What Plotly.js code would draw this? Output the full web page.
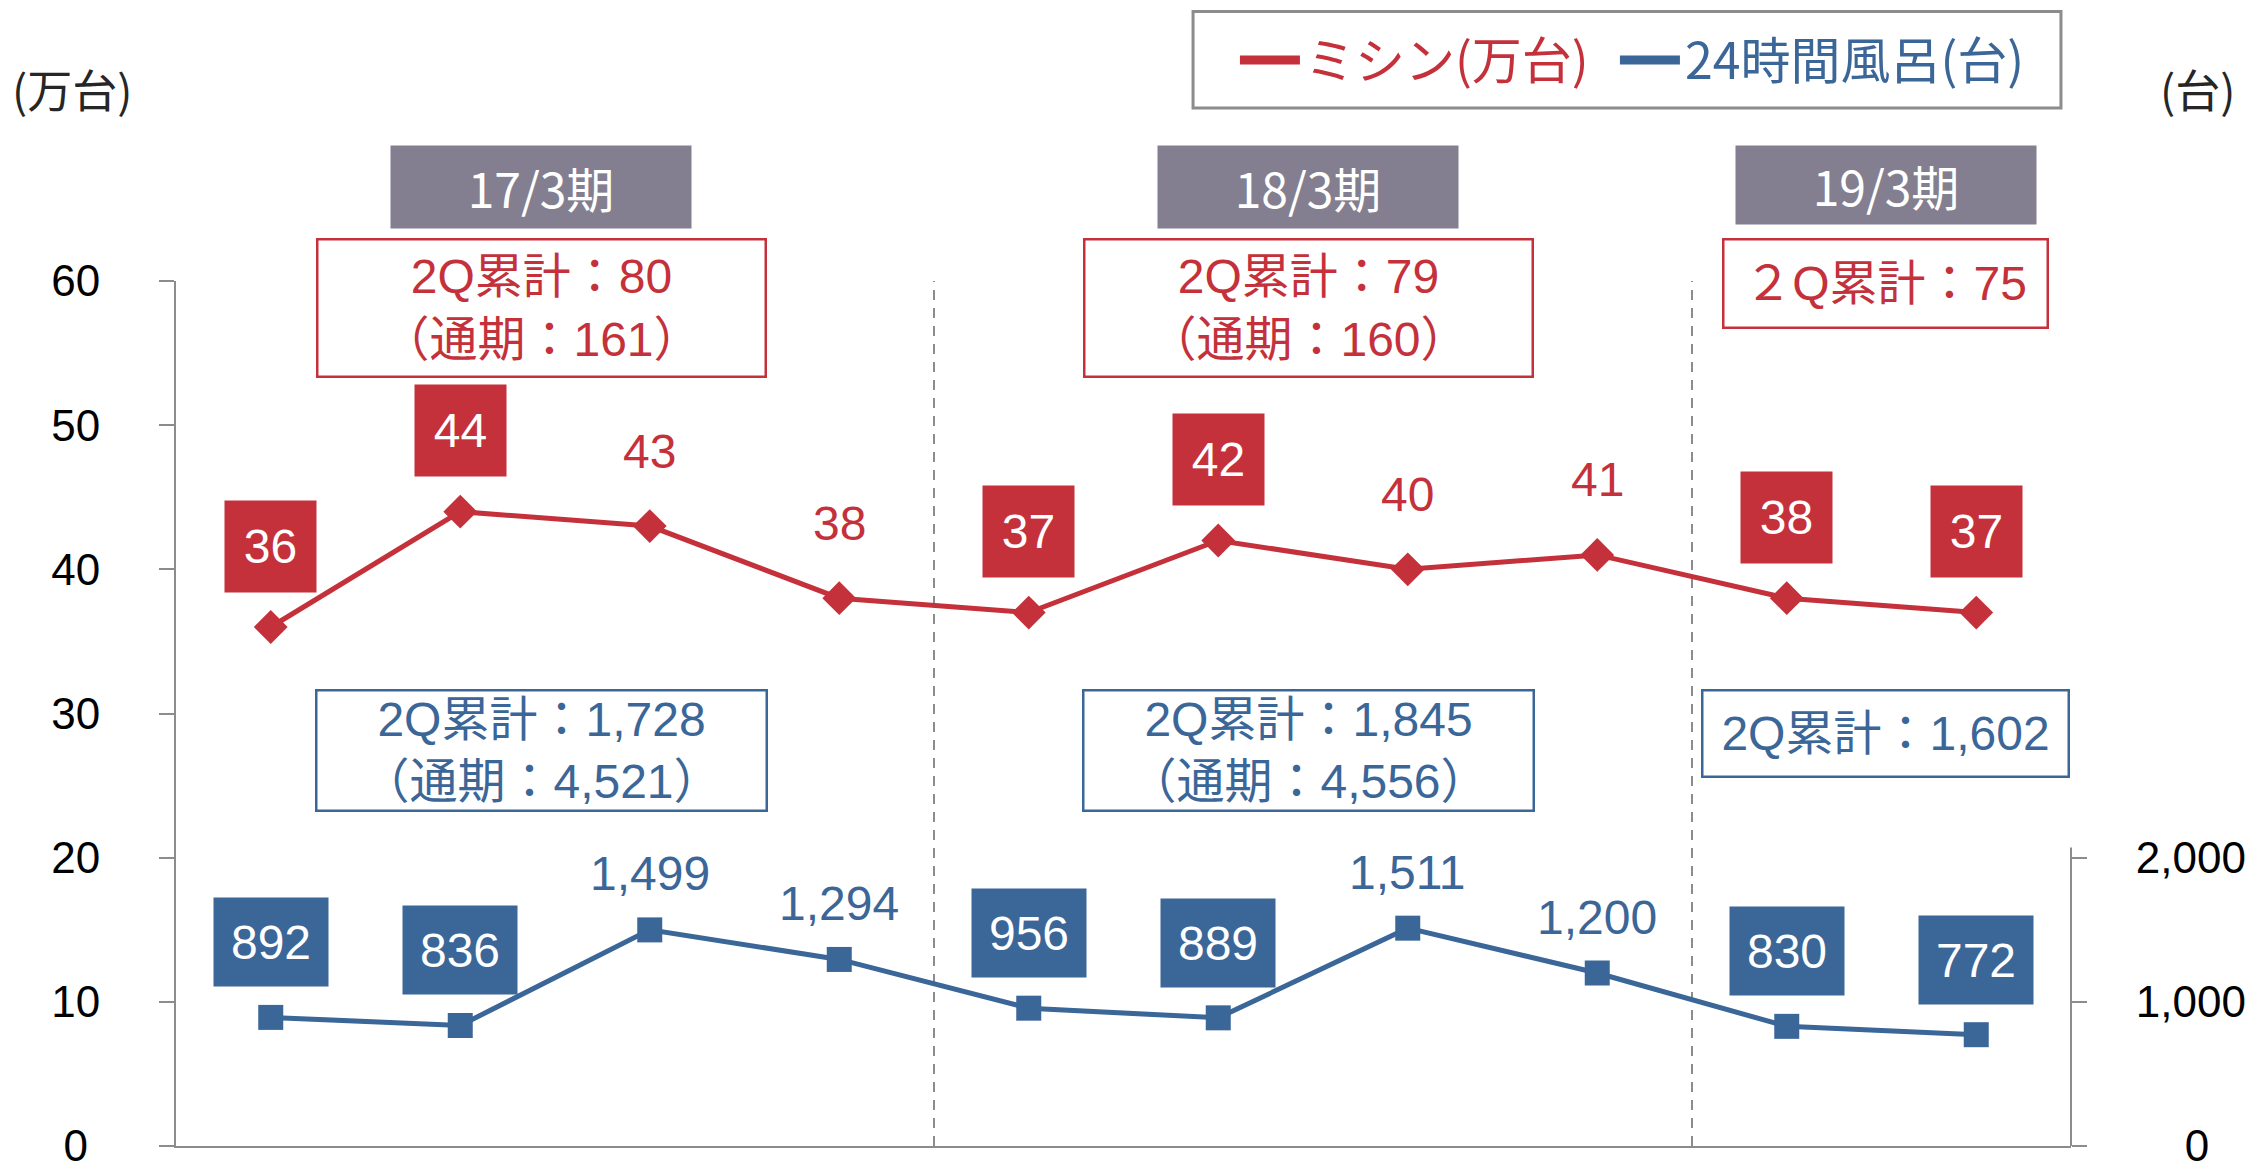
<!DOCTYPE html>
<html>
<head>
<meta charset="utf-8">
<script src="https://cdn.plot.ly/plotly-3.0.1.min.js"></script>
<style>html,body{margin:0;padding:0;background:#fff;}</style>
</head>
<body>
<div id="chart" style="width:2260px;height:1169px;"></div>
<script>
// 四半期ごとのデータ
var quarters = ['17/3期 1Q','17/3期 2Q','17/3期 3Q','17/3期 4Q','18/3期 1Q','18/3期 2Q','18/3期 3Q','18/3期 4Q','19/3期 1Q','19/3期 2Q'];
var mishin = [36, 44, 43, 38, 37, 42, 40, 41, 38, 37];          // 万台
var furo = [892, 836, 1499, 1294, 956, 889, 1511, 1200, 830, 772]; // 台
var periods = ['17/3期', '18/3期', '19/3期'];
var mishinTotals = ['2Q累計：80<br>（通期：161）', '2Q累計：79<br>（通期：160）', '２Q累計：75'];
var furoTotals = ['2Q累計：1,728<br>（通期：4,521）', '2Q累計：1,845<br>（通期：4,556）', '2Q累計：1,602'];
var leftTicks = [0, 10, 20, 30, 40, 50, 60];
var rightTicks = [0, 1000, 2000];

var RED = '#C4313B', BLUE = '#3B6698', GRAY = '#8c8c8c', HEAD = '#837F90';
var FONT = "'Liberation Sans', 'Noto Sans CJK JP', sans-serif";
var JP = "'Noto Sans CJK JP', sans-serif";

var $drawChart = function(id){
    var data = [
        {
            x: quarters, y: mishin, yaxis: 'y', type: 'scatter', mode: 'lines+markers',
            line: {color: RED, width: 5},
            marker: {symbol: 'diamond', size: 26, color: RED},
            showlegend: false, hoverinfo: 'skip'
        },
        {
            x: quarters, y: furo, yaxis: 'y2', type: 'scatter', mode: 'lines+markers',
            line: {color: BLUE, width: 5},
            marker: {symbol: 'square', size: 25, color: BLUE},
            showlegend: false, hoverinfo: 'skip'
        },
        // 凡例だけのダミー
        {x: [null], y: [null], mode: 'lines', line: {color: RED, width: 9},
         name: '<span style="color:' + RED + '">ミシン(万台)</span>'},
        {x: [null], y: [null], mode: 'lines', line: {color: BLUE, width: 9}, legendwidth: 380,
         name: '<span style="color:' + BLUE + '">24時間風呂(台)</span>'}
    ];

    var annotations = [];
    var shapes = [];

    // データラベル（1Q・2Qは塗りつぶしの箱）
    quarters.forEach(function(q, i){
        var boxed = (i % 4) < 2;
        annotations.push({
            x: i, y: mishin[i], xref: 'x', yref: 'y', showarrow: false, xanchor: 'center', yanchor: 'middle',
            text: String(mishin[i]), yshift: boxed ? 81 : 75,
            font: {family: FONT, size: 48, color: boxed ? '#fff' : RED},
            bgcolor: boxed ? RED : 'rgba(0,0,0,0)', width: boxed ? 91 : null, height: boxed ? 91 : null,
            borderpad: 0
        });
        annotations.push({
            x: i, y: furo[i], xref: 'x', yref: 'y2', showarrow: false, xanchor: 'center', yanchor: 'middle',
            text: furo[i].toLocaleString('en-US'), yshift: boxed ? 75 : 56,
            font: {family: FONT, size: 48, color: boxed ? '#fff' : BLUE},
            bgcolor: boxed ? BLUE : 'rgba(0,0,0,0)', width: boxed ? 114 : null, height: boxed ? 88 : null,
            borderpad: 0
        });
    });

    // 期ごとの見出し・累計ボックス・区切り線
    var nudge = [-14, -5, 4]; // 箱の横位置の微調整(px)
    periods.forEach(function(p, k){
        var first = k * 4, last = Math.min(k * 4 + 3, quarters.length - 1);
        var mid = (first + last) / 2;
        var twoLine = mishinTotals[k].indexOf('<br>') >= 0;
        annotations.push({
            x: mid, y: 1.1567, xref: 'x', yref: 'paper', xanchor: 'center', yanchor: 'top', showarrow: false,
            xshift: nudge[k], text: p, font: {family: JP, size: 48, color: '#fff'},
            bgcolor: HEAD, width: 300, height: k == 2 ? 78 : 82, borderpad: 0
        });
        annotations.push({
            x: mid, y: 1.0492, xref: 'x', yref: 'paper', xanchor: 'center', yanchor: 'top', showarrow: false,
            xshift: nudge[k], text: mishinTotals[k], font: {family: FONT, size: 48, color: RED},
            bordercolor: RED, borderwidth: 2.5, borderpad: 0, bgcolor: '#fff',
            width: twoLine ? 446 : 322, height: twoLine ? 135 : 86
        });
        annotations.push({
            x: mid, y: 31.7, xref: 'x', yref: 'y', xanchor: 'center', yanchor: 'top', showarrow: false,
            xshift: nudge[k], text: furoTotals[k], font: {family: FONT, size: 48, color: BLUE},
            bordercolor: BLUE, borderwidth: 2.5, borderpad: 0, bgcolor: '#fff',
            width: twoLine ? 448 : 364, height: twoLine ? 118 : 84
        });
        if(k > 0){
            shapes.push({
                type: 'line', xref: 'x', yref: 'y', x0: first - 0.5, x1: first - 0.5, y0: 0, y1: 60.5,
                line: {color: GRAY, width: 2, dash: '10px,8px'}, layer: 'below'
            });
        }
    });

    // 単位
    annotations.push({xref: 'paper', yref: 'paper', x: -0.055, y: 1.222, xanchor: 'center', yanchor: 'middle',
        showarrow: false, text: '(万台)', font: {family: JP, size: 45, color: '#262626'}});
    annotations.push({xref: 'paper', yref: 'paper', x: 1.067, y: 1.222, xanchor: 'center', yanchor: 'middle',
        showarrow: false, text: '(台)', font: {family: JP, size: 45, color: '#262626'}});

    // 右軸は2,000までしか線を引かない
    shapes.push({type: 'line', xref: 'paper', yref: 'y2', x0: 1, x1: 1, y0: 0, y1: 2070,
        line: {color: GRAY, width: 2}});
    // 凡例の枠
    shapes.push({type: 'rect', xref: 'paper', yref: 'paper', x0: 0.5367, x1: 0.9947, y0: 1.2, y1: 1.3116,
        line: {color: GRAY, width: 3}, fillcolor: 'rgba(0,0,0,0)'});

    // 0 のラベルを他の目盛りの幅の中央に寄せる
    var leftText = leftTicks.map(function(v){ return v === 0 ? '0\u2008' : String(v); });
    var rightText = rightTicks.map(function(v){ return v === 0 ? '\u2007\u20070' : v.toLocaleString('en-US'); });

    var layout = {
        width: 2260, height: 1169,
        margin: {l: 176, r: 189, t: 281, b: 23},
        paper_bgcolor: '#fff', plot_bgcolor: '#fff',
        font: {family: FONT, size: 44, color: '#000'},
        showlegend: true,
        legend: {
            orientation: 'h', x: 0.5588, y: 1.2555, xanchor: 'left', yanchor: 'middle',
            borderwidth: 0, bgcolor: 'rgba(0,0,0,0)',
            font: {family: JP, size: 50},
            itemwidth: 60, entrywidth: 305
        },
        xaxis: {
            type: 'category', range: [-0.5, quarters.length - 0.5],
            showline: true, linecolor: GRAY, linewidth: 2,
            showticklabels: false, ticks: '', showgrid: false, zeroline: false, fixedrange: true
        },
        yaxis: {
            range: [0, 60], tickvals: leftTicks, ticktext: leftText,
            ticks: 'outside', ticklen: 15, tickwidth: 2, tickcolor: GRAY,
            showline: true, linecolor: GRAY, linewidth: 2, showgrid: false, zeroline: false,
            tickfont: {family: FONT, size: 44, color: '#000'}, ticklabelstandoff: 50, ticklabeloverflow: 'allow'
        },
        yaxis2: {
            overlaying: 'y', side: 'right', range: [0, 6000],
            tickvals: rightTicks, ticktext: rightText,
            ticks: 'outside', ticklen: 15, tickwidth: 2, tickcolor: GRAY,
            showline: false, showgrid: false, zeroline: false,
            tickfont: {family: FONT, size: 44, color: '#000'}, ticklabelstandoff: 40, ticklabeloverflow: 'allow'
        },
        annotations: annotations,
        shapes: shapes
    };
    var config = {staticPlot: true, displayModeBar: false};
    Plotly.newPlot(id, data, layout, config);
};

$drawChart('chart');
</script>
</body>
</html>
